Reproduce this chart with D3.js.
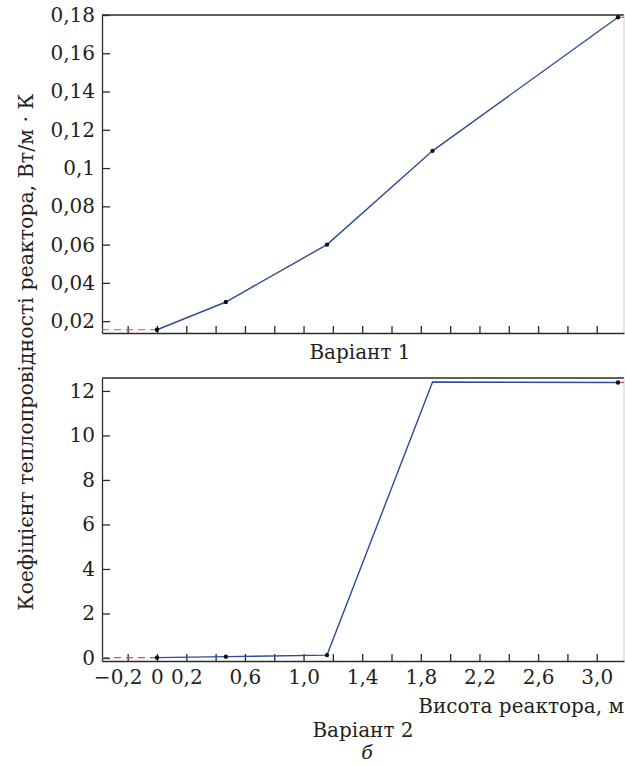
<!DOCTYPE html>
<html>
<head>
<meta charset="utf-8">
<script src="https://cdn.jsdelivr.net/npm/d3@7"></script>
<style>
  html, body { margin: 0; padding: 0; background: #fff; }
  svg { display: block; font-family: "DejaVu Serif", serif; }
  .axis path, .axis line { stroke: #2a2a2a; stroke-width: 1.3; }
  .axis text { fill: #231f20; font-size: 20px; font-family: "DejaVu Serif", serif; }
</style>
</head>
<body>
<svg id="chart" width="625" height="766"></svg>
<script>
// Висота реактора (м) та коефіцієнт теплопровідності для двох варіантів
const heights = [0, 0.47, 1.16, 1.88, 3.145];
const variant1 = [0.0155, 0.030, 0.060, 0.109, 0.1788];
const variant2 = [0.015, 0.06, 0.13, 12.4, 12.38];
const variant1Markers = [true, true, true, true, true];
const variant2Markers = [true, true, true, false, true];

const xTickValues = [-0.2, 0, 0.2, 0.4, 0.6, 0.8, 1.0, 1.2, 1.4, 1.6, 1.8, 2.0, 2.2, 2.4, 2.6, 2.8, 3.0];
const xTickLabels = ['−0,2', '0', '0,2', '', '0,6', '', '1,0', '', '1,4', '', '1,8', '', '2,2', '', '2,6', '', '3,0'];

const yTicksTop = [0.02, 0.04, 0.06, 0.08, 0.1, 0.12, 0.14, 0.16, 0.18];
const yLabelsTop = ['0,02', '0,04', '0,06', '0,08', '0,1', '0,12', '0,14', '0,16', '0,18'];
const yTicksBottom = [0, 2, 4, 6, 8, 10, 12];
const yLabelsBottom = ['0', '2', '4', '6', '8', '10', '12'];

const LINE_COLOR = '#2f4b98';
const EXT_COLOR = '#e0476a';
const AXIS_COLOR = '#2a2a2a';

const svg = d3.select('#chart');
const LEFT = 102, RIGHT = 624;

const x = d3.scaleLinear().domain([-0.375, 3.186]).range([LEFT, RIGHT]);

function drawPanel(cfg) {
  const { top, bottom, yDomain, values, markers, yTicks, yLabels, showXLabels } = cfg;
  const y = d3.scaleLinear().domain(yDomain).range([bottom, top]);
  const g = svg.append('g');

  // рамка: верх чорний, правий край світло-сірий
  g.append('line')
    .attr('x1', LEFT).attr('x2', RIGHT).attr('y1', top).attr('y2', top)
    .attr('stroke', AXIS_COLOR).attr('stroke-width', 1.3);
  g.append('line')
    .attr('x1', RIGHT).attr('x2', RIGHT).attr('y1', top).attr('y2', bottom)
    .attr('stroke', '#cfcfcf').attr('stroke-width', 1);

  const xAxis = d3.axisBottom(x)
    .tickValues(xTickValues)
    .tickSizeInner(-7).tickSizeOuter(0).tickPadding(9)
    .tickFormat((d, i) => showXLabels ? xTickLabels[i] : '');
  const xg = g.append('g').attr('class', 'axis')
    .attr('transform', `translate(0,${bottom})`).call(xAxis);
  xg.selectAll('text').attr('dx', (d, i) => xTickLabels[i].startsWith('−') ? -10 : 0);

  const yAxis = d3.axisLeft(y)
    .tickValues(yTicks)
    .tickSizeInner(-8).tickSizeOuter(0).tickPadding(7)
    .tickFormat((d, i) => yLabels[i]);
  g.append('g').attr('class', 'axis')
    .attr('transform', `translate(${LEFT},0)`).call(yAxis);

  // червоні пунктирні продовження за межі даних
  const n = heights.length;
  const ext = [
    [[x.domain()[0], values[0]], [heights[0], values[0]]],
    [[heights[n - 1], values[n - 1]], [x.domain()[1], values[n - 1]]]
  ];
  const lineGen = d3.line().x(d => x(d[0])).y(d => y(d[1]));
  ext.forEach(seg => {
    g.append('path').attr('d', lineGen(seg))
      .attr('fill', 'none').attr('stroke', EXT_COLOR)
      .attr('stroke-width', 1.2).attr('stroke-dasharray', '7,5');
  });

  const pts = heights.map((h, i) => [h, values[i]]);
  g.append('path').attr('d', lineGen(pts))
    .attr('fill', 'none').attr('stroke', LINE_COLOR).attr('stroke-width', 1.4);

  g.selectAll('circle.pt').data(pts.filter((d, i) => markers[i]))
    .enter().append('circle').attr('class', 'pt')
    .attr('cx', d => x(d[0])).attr('cy', d => y(d[1]))
    .attr('r', 2.2).attr('fill', '#111');
}

drawPanel({
  top: 15, bottom: 333, yDomain: [0.0138, 0.18],
  values: variant1, markers: variant1Markers,
  yTicks: yTicksTop, yLabels: yLabelsTop, showXLabels: false
});

drawPanel({
  top: 378, bottom: 661, yDomain: [-0.135, 12.58],
  values: variant2, markers: variant2Markers,
  yTicks: yTicksBottom, yLabels: yLabelsBottom, showXLabels: true
});

// підписи
const textColor = '#231f20';
svg.append('text').attr('x', 360).attr('y', 359).attr('text-anchor', 'middle')
  .style('font-size', '20px').style('fill', textColor).text('Варіант 1');
svg.append('text').attr('x', 624).attr('y', 713).attr('text-anchor', 'end')
  .style('font-size', '20px').style('fill', textColor).text('Висота реактора, м');
svg.append('text').attr('x', 363).attr('y', 737).attr('text-anchor', 'middle')
  .style('font-size', '20px').style('fill', textColor).text('Варіант 2');
svg.append('text').attr('x', 367).attr('y', 759).attr('text-anchor', 'middle')
  .style('font-size', '19px').style('font-style', 'italic').style('fill', textColor).text('б');
svg.append('text')
  .attr('transform', 'translate(33,352) rotate(-90)')
  .attr('text-anchor', 'middle')
  .style('font-size', '20.5px').style('fill', textColor)
  .text('Коефіцієнт теплопровідності реактора, Вт/м · К');
</script>
</body>
</html>
